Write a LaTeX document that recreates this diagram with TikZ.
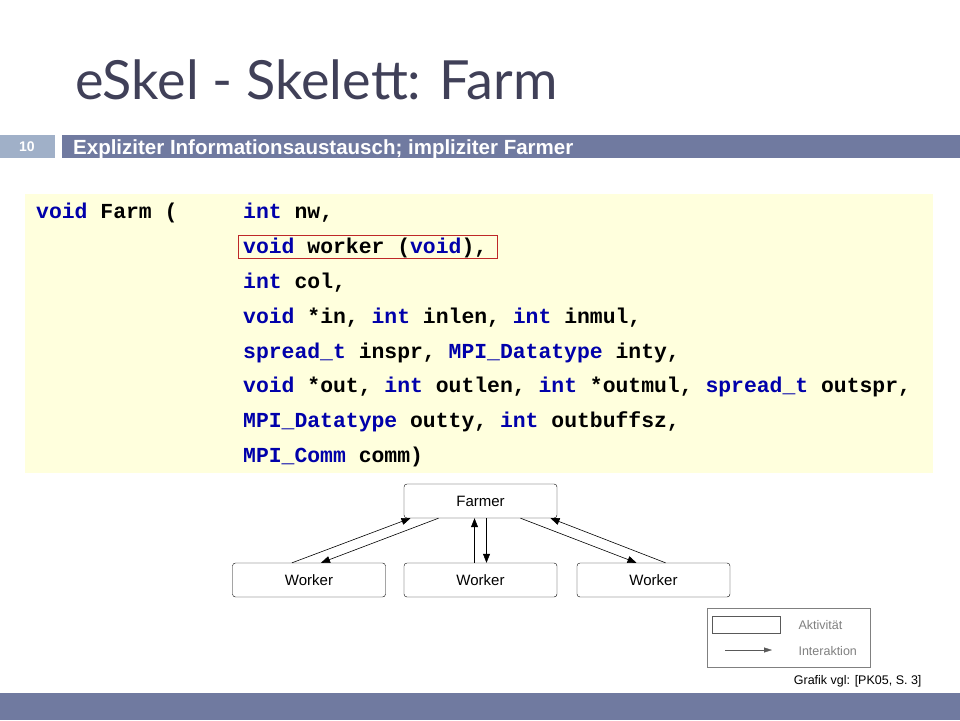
\documentclass[tikz,border=0pt]{standalone}
\usepackage{fontspec}
\setmainfont{Liberation Sans}
\newfontfamily\codefont{Liberation Mono}
\newfontfamily\titlefont{Lato}
\usetikzlibrary{arrows.meta}
\definecolor{barblue}{RGB}{112,122,160}
\definecolor{lightbar}{RGB}{160,176,200}
\definecolor{titlecol}{RGB}{64,64,88}
\definecolor{codebg}{RGB}{255,255,221}
\definecolor{kw}{RGB}{0,0,170}
\definecolor{redbox}{RGB}{190,40,40}
\newcommand{\kwd}[1]{\textcolor{kw}{#1}}
\begin{document}
\begin{tikzpicture}[x=1pt,y=-1pt,
  box/.style={draw,rounded corners=3pt,minimum width=153pt,minimum height=34pt,inner sep=0pt,font=\fontsize{15}{17}\selectfont},
  arr/.style={-{Triangle[length=9pt,width=7pt]},line width=0.6pt},
  code/.style={anchor=base west,inner sep=0pt,font=\codefont\bfseries\fontsize{21.4}{23}\selectfont}]
\useasboundingbox (0,0) rectangle (960,720);
\fill[white] (0,0) rectangle (960,720);
\node[anchor=base west,inner sep=0pt,text=titlecol,font=\titlefont\fontsize{54}{60}\selectfont] (title) at (75,99) {eSkel - Skelett: Farm};
\fill[lightbar] (0,135) rectangle (55,158);
\node[text=white,font=\bfseries\fontsize{14}{16}\selectfont] (num) at (27,146.5) {10};
\fill[barblue] (62,135) rectangle (960,158);
\node[anchor=base west,inner sep=0pt,text=white,font=\bfseries\fontsize{20.5}{22}\selectfont] (sub) at (73,154) {Expliziter Informationsaustausch; impliziter Farmer};
\fill[codebg] (25,194) rectangle (933,473);
\node[code] (c0) at (36,218) {\kwd{void} Farm (};
\node[code] (l1) at (243,218) {\kwd{int} nw,};
\node[code] (l2) at (243,253) {\kwd{void} worker (\kwd{void}),};
\node[code] (l3) at (243,288) {\kwd{int} col,};
\node[code] (l4) at (243,323) {\kwd{void} *in, \kwd{int} inlen, \kwd{int} inmul,};
\node[code] (l5) at (243,358) {\kwd{spread\_t} inspr, \kwd{MPI\_Datatype} inty,};
\node[code] (l6) at (243,392) {\kwd{void} *out, \kwd{int} outlen, \kwd{int} *outmul, \kwd{spread\_t} outspr,};
\node[code] (l7) at (243,427) {\kwd{MPI\_Datatype} outty, \kwd{int} outbuffsz,};
\node[code] (l8) at (243,462) {\kwd{MPI\_Comm} comm)};
\draw[redbox,line width=0.8pt] (238,235) rectangle (497,258);
\node[box] (F) at (480.5,501) {Farmer};
\node[box] (W1) at (309,580) {Worker};
\node[box] (W2) at (480.5,580) {Worker};
\node[box] (W3) at (653.5,580) {Worker};
\draw[arr] ([xshift=-17pt]W1.north) -- ([xshift=-70pt]F.south);
\draw[arr] ([xshift=-42pt]F.south) -- ([xshift=12pt]W1.north);
\draw[arr] ([xshift=-6pt]W2.north) -- ([xshift=-6pt]F.south);
\draw[arr] ([xshift=6pt]F.south) -- ([xshift=6pt]W2.north);
\draw[arr] ([xshift=40pt]F.south) -- ([xshift=-17pt]W3.north);
\draw[arr] ([xshift=12pt]W3.north) -- ([xshift=70pt]F.south);
\draw[gray] (707,608) rectangle (870,667);
\node[draw=gray!70!black,minimum width=68pt,minimum height=17pt,inner sep=0pt] (lr) at (746,624.5) {};
\coordinate (la1) at (725,650);
\coordinate (la2) at (772,650);
\draw[gray!70!black,-{Triangle[length=8pt,width=5pt]}] (la1) -- (la2);
\node[anchor=west,text=gray,font=\fontsize{12.5}{14}\selectfont] (t1) at (795,625) {Aktivität};
\node[anchor=west,text=gray,font=\fontsize{12.5}{14}\selectfont] (t2) at (795,651) {Interaktion};
\node[anchor=east,font=\fontsize{12.5}{14}\selectfont] (src) at (925,681) {Grafik vgl: [PK05, S. 3]};
\fill[barblue] (0,693) rectangle (960,720);
\end{tikzpicture}
\end{document}
